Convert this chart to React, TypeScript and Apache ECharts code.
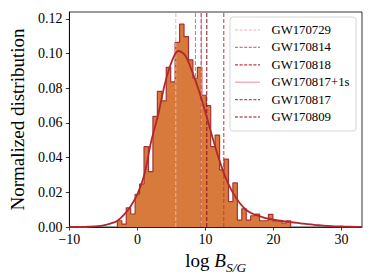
import React, { useEffect, useRef } from "react";
import * as echarts from "echarts";

const SERIF = "'Liberation Serif', 'Times New Roman', serif";

// Histogram (normalized density per bin), bins of equal width starting at BIN_START
const BIN_START = -2.95;
const BIN_WIDTH = 0.653;
const DENSITY = [
  0.0036, 0.0017, 0.0111, 0.0075, 0.0189, 0.0248, 0.0463, 0.0319, 0.0638, 0.0782,
  0.0727, 0.0921, 0.0837, 0.1065, 0.117, 0.1098, 0.0964, 0.0858, 0.0921, 0.076,
  0.07, 0.0463, 0.053, 0.0329, 0.0392, 0.0146, 0.0254, 0.004, 0.0105, 0.004,
  0.0065, 0.0075, 0.0036, 0.0036, 0.0073, 0.0035, 0.0036, 0.0023, 0.0036,
];

// Fitted curve
const CURVE_X = [
  -10, -9, -8, -7, -6, -5, -4, -3, -2, -1, 0, 1, 2, 3, 4, 5, 6, 7, 8, 9, 10, 11,
  12, 13, 14, 15, 16, 17, 18, 19, 20, 21, 22, 23, 24, 25, 26, 27, 28, 29, 30, 31, 32, 33,
];
const CURVE_Y = [
  0.0, 0.0, 0.0, 0.0002, 0.0005, 0.001, 0.002, 0.0035, 0.007, 0.012, 0.019, 0.03,
  0.049, 0.064, 0.082, 0.095, 0.1015, 0.099, 0.09, 0.079, 0.066, 0.052, 0.039,
  0.028, 0.02, 0.014, 0.0098, 0.0075, 0.0062, 0.005, 0.0042, 0.0036, 0.0031,
  0.0026, 0.0021, 0.0016, 0.0012, 0.0009, 0.0006, 0.0004, 0.0003, 0.0002, 0.0001, 0.0001,
];

// Events (vertical lines)
const EVENTS = ["GW170729", "GW170814", "GW170818", "GW170817+1s", "GW170817", "GW170809"];
const EVENT_X = [5.64, 8.52, 12.69, 9.4, 9.35, 10.19];
const EVENT_COLORS = ["#eab0b4", "#d9707a", "#c23a42", "#eea0a6", "#b84a62", "#8a1019"];
const EVENT_DASHED = [true, true, true, false, true, true];

const X_TICKS = [-10, 0, 10, 20, 30];
const Y_TICKS = [0, 0.02, 0.04, 0.06, 0.08, 0.1, 0.12];

const X_MIN = -10;
const X_MAX = 33;
const Y_MIN = 0;
const Y_MAX = 0.124;

export default function App() {
  const ref = useRef<HTMLDivElement>(null);

  useEffect(() => {
    if (!ref.current) return;
    const chart = echarts.init(ref.current, undefined, { renderer: "svg" });

    const histPoints: number[][] = [[BIN_START, 0]];
    DENSITY.forEach((d, i) => histPoints.push([BIN_START + i * BIN_WIDTH, d]));
    histPoints.push([BIN_START + DENSITY.length * BIN_WIDTH, 0]);

    const curve = CURVE_X.map((x, i) => [x, CURVE_Y[i]]);

    const eventSeries = EVENTS.map((name, i) => ({
      name,
      type: "line",
      data: [
        [EVENT_X[i], Y_MIN],
        [EVENT_X[i], Y_MAX],
      ],
      symbol: "none",
      silent: true,
      z: 3,
      lineStyle: {
        color: EVENT_COLORS[i],
        width: 1,
        type: EVENT_DASHED[i] ? [4, 2] : "solid",
      },
    }));

    // Legend drawn with graphic elements (line samples + labels)
    const LEG_X = 230;
    const LEG_Y = 17;
    const ROW0 = 30;
    const ROW_H = 17.4;
    const legendChildren: any[] = [
      {
        type: "rect",
        shape: { x: LEG_X, y: LEG_Y, width: 126, height: 114, r: 3 },
        style: { fill: "rgba(255,255,255,0.85)", stroke: "#d6d6d6", lineWidth: 1 },
      },
    ];
    EVENTS.forEach((name, i) => {
      const y = ROW0 + ROW_H * i;
      legendChildren.push({
        type: "line",
        shape: { x1: 235, y1: y, x2: 260, y2: y },
        style: {
          stroke: EVENT_COLORS[i],
          lineWidth: 1.2,
          lineDash: EVENT_DASHED[i] ? [3, 1.6] : null,
        },
      });
      legendChildren.push({
        type: "text",
        x: 271.5,
        y,
        style: {
          text: name,
          fontFamily: SERIF,
          fontSize: 12.75,
          fill: "#000",
          verticalAlign: "middle",
          align: "left",
        },
      });
    });

    const option: any = {
      animation: false,
      grid: {
        left: 63,
        right: 12,
        top: 12,
        bottom: 53,
        show: true,
        borderColor: "#000",
        borderWidth: 0.8,
        backgroundColor: "transparent",
      },
      xAxis: {
        type: "value",
        min: X_MIN,
        max: X_MAX,
        interval: 10,
        splitLine: { show: false },
        axisLine: { show: true, onZero: false, lineStyle: { color: "#000", width: 0.8 } },
        axisTick: {
          show: true,
          inside: false,
          length: 3.5,
          customValues: X_TICKS,
          lineStyle: { color: "#000", width: 0.8 },
        },
        axisLabel: {
          customValues: X_TICKS,
          margin: 5,
          fontFamily: SERIF,
          fontSize: 14,
          color: "#000",
          formatter: (v: number) => String(v).replace("-", "\u2212"),
        },
        name: "{a|log }{b|B}{c|S/G}",
        nameLocation: "middle",
        nameGap: 20,
        nameTextStyle: {
          rich: {
            a: { fontFamily: SERIF, fontSize: 19, lineHeight: 22, color: "#000", verticalAlign: "top" },
            b: {
              fontFamily: SERIF,
              fontSize: 19,
              lineHeight: 22,
              fontStyle: "italic",
              color: "#000",
              verticalAlign: "top",
            },
            c: {
              fontFamily: SERIF,
              fontSize: 13.5,
              lineHeight: 14,
              fontStyle: "italic",
              color: "#000",
              verticalAlign: "top",
              padding: [10, 0, 0, 0],
            },
          },
        },
      },
      yAxis: {
        type: "value",
        min: Y_MIN,
        max: Y_MAX,
        interval: 0.02,
        splitLine: { show: false },
        axisLine: { show: true, onZero: false, lineStyle: { color: "#000", width: 0.8 } },
        axisTick: {
          show: true,
          inside: false,
          length: 3.5,
          customValues: Y_TICKS,
          lineStyle: { color: "#000", width: 0.8 },
        },
        axisLabel: {
          customValues: Y_TICKS,
          margin: 7,
          fontFamily: SERIF,
          fontSize: 14,
          color: "#000",
          formatter: (v: number) => v.toFixed(2),
        },
        name: "Normalized distribution",
        nameLocation: "middle",
        nameGap: 37,
        nameTextStyle: { fontFamily: SERIF, fontSize: 19, color: "#000" },
      },
      graphic: [{ type: "group", z: 100, children: legendChildren }],
      series: [
        {
          name: "hist",
          type: "line",
          data: histPoints,
          step: "end",
          symbol: "none",
          silent: true,
          z: 2,
          lineStyle: { color: "#a83232", width: 1.2 },
          areaStyle: { color: "#d77a3c", opacity: 1 },
        },
        ...eventSeries,
        {
          name: "fit",
          type: "line",
          data: curve,
          smooth: 0.35,
          symbol: "none",
          silent: true,
          z: 4,
          lineStyle: { color: "#b0282c", width: 1.8 },
        },
      ],
    };

    chart.setOption(option);
    return () => chart.dispose();
  }, []);

  return (
    <div
      ref={ref}
      style={{ position: "fixed", left: 0, top: 0, width: 374, height: 280, background: "#fff" }}
    />
  );
}
